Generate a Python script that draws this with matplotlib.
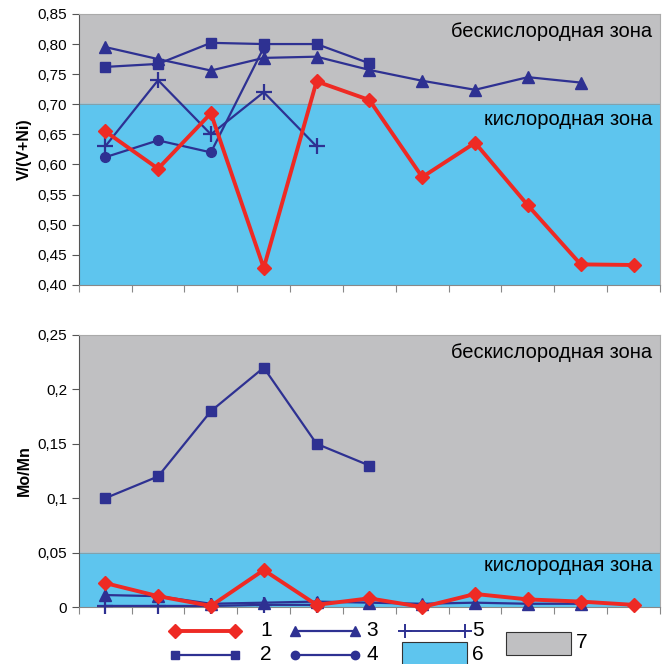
import numpy as np
import matplotlib
matplotlib.use('Agg')
import matplotlib.pyplot as plt
from matplotlib.lines import Line2D
from matplotlib.patches import Rectangle
from matplotlib.ticker import FuncFormatter

plt.rcParams['font.family'] = ['Liberation Sans', 'DejaVu Sans']

# V/(V+Ni) values
vni_1 = [0.655, 0.593, 0.685, 0.428, 0.738, 0.707, 0.579, 0.636, 0.532, 0.434, 0.433]
vni_2 = [0.762, 0.767, 0.802, 0.800, 0.800, 0.768]
vni_3 = [0.795, 0.775, 0.756, 0.777, 0.779, 0.757, 0.739, 0.724, 0.745, 0.736]
vni_4 = [0.612, 0.640, 0.620, 0.794]
vni_5 = [0.630, 0.740, 0.650, 0.720, 0.630]

# Mo/Mn values
momn_1 = [0.022, 0.010, 0.001, 0.034, 0.002, 0.008, 0.000, 0.012, 0.007, 0.005, 0.002]
momn_2 = [0.10, 0.12, 0.18, 0.22, 0.15, 0.13]
momn_3 = [0.011, 0.010, 0.003, 0.004, 0.005, 0.004, 0.003, 0.004, 0.003, 0.003]
momn_5 = [0.001, 0.001, 0.001, 0.002, 0.002]

n_cat = 11
red = '#ee2a24'
navy = '#2e3192'
grey = '#c0c0c2'
blue = '#5ec5ee'

def xs(vals):
    return np.arange(len(vals)) + 0.5

def comma2(v, pos):
    return f'{v:.2f}'.replace('.', ',')

def comma_short(v, pos):
    if abs(v) < 1e-9:
        return '0'
    s = f'{v:.2f}'.rstrip('0')
    return s.replace('.', ',')

W, H = 668, 664
fig = plt.figure(figsize=(W / 100, H / 100), dpi=100)
ax1 = fig.add_axes([0.118, 0.571, 0.870, 0.408])
ax2 = fig.add_axes([0.118, 0.0858, 0.870, 0.4097])

def style(ax, ylo, yhi, split, step):
    ax.set_xlim(0, n_cat)
    ax.set_ylim(ylo, yhi)
    ax.axhspan(split, yhi, color=grey, zorder=0)
    ax.axhspan(ylo, split, color=blue, zorder=0)
    ax.axhline(split, color='#8a9aa0', lw=0.6, zorder=1)
    ax.set_xticks(np.arange(n_cat + 1))
    ax.set_xticklabels([])
    ax.set_yticks(np.arange(ylo, yhi + step / 2, step))
    ax.tick_params(axis='x', direction='out', length=5, color='#888888')
    ax.tick_params(axis='y', direction='out', length=5, labelsize=11, color='#555555')
    for s in ['top', 'right']:
        ax.spines[s].set_color('#aaaaaa')
    ax.spines['left'].set_color('#555555')
    ax.spines['bottom'].set_color('#888888')
    ax.text(n_cat - 0.15, yhi - (yhi - ylo) * 0.03, 'бескислородная зона',
            ha='right', va='top', fontsize=14.5)

style(ax1, 0.40, 0.85, 0.70, 0.05)
ax1.yaxis.set_major_formatter(FuncFormatter(comma2))
ax1.text(n_cat - 0.15, 0.69, 'кислородная зона', ha='right', va='top', fontsize=14.5)
ax1.set_ylabel('V/(V+Ni)', fontweight='bold', fontsize=11.5)

ax1.plot(xs(vni_2), vni_2, color=navy, lw=1.6, marker='s', ms=7, zorder=3)
ax1.plot(xs(vni_3), vni_3, color=navy, lw=1.6, marker='^', ms=8, zorder=3)
ax1.plot(xs(vni_4), vni_4, color=navy, lw=1.6, marker='o', ms=7, zorder=3)
ax1.plot(xs(vni_5), vni_5, color=navy, lw=1.6, marker='+', ms=12, mew=1.6, zorder=3)
ax1.plot(xs(vni_1), vni_1, color=red, lw=2.8, marker='D', ms=7, zorder=4)

style(ax2, 0.0, 0.25, 0.05, 0.05)
ax2.yaxis.set_major_formatter(FuncFormatter(comma_short))
ax2.text(n_cat - 0.15, 0.047, 'кислородная зона', ha='right', va='top', fontsize=14.5)
ax2.set_ylabel('Mo/Mn', fontweight='bold', fontsize=11.5)

ax2.plot(xs(momn_2), momn_2, color=navy, lw=1.6, marker='s', ms=7, zorder=3)
ax2.plot(xs(momn_5), momn_5, color=navy, lw=1.6, marker='+', ms=12, mew=1.6, zorder=3, clip_on=False)
ax2.plot(xs(momn_3), momn_3, color=navy, lw=1.6, marker='^', ms=8, zorder=3, clip_on=False)
ax2.plot(xs(momn_1), momn_1, color=red, lw=2.8, marker='D', ms=7, zorder=4, clip_on=False)

# legend drawn by hand in figure pixel positions
def fx(px):
    return px / W

def fy(py):
    return 1 - py / H

line_items = [
    ('1', 175, 631, 260, dict(color=red, lw=2.8, marker='D', ms=7)),
    ('2', 175, 655, 260, dict(color=navy, lw=1.6, marker='s', ms=6)),
    ('3', 295, 631, 366, dict(color=navy, lw=1.6, marker='^', ms=7)),
    ('4', 295, 655, 366, dict(color=navy, lw=1.6, marker='o', ms=6)),
    ('5', 405, 631, 472, dict(color=navy, lw=1.4, marker='+', ms=10, mew=1.4)),
]
for lab, x0, y0, xt, kw in line_items:
    fig.add_artist(Line2D([fx(x0), fx(x0 + 60)], [fy(y0), fy(y0)], **kw))
    fig.text(fx(xt), fy(y0), lab, fontsize=15, ha='left', va='center')

fig.add_artist(Rectangle((fx(402), fy(665)), fx(65), 23 / H, facecolor=blue,
                         edgecolor='#333333', lw=0.8))
fig.text(fx(472), fy(655), '6', fontsize=15, ha='left', va='center')
fig.add_artist(Rectangle((fx(506), fy(655)), fx(65), 23 / H, facecolor=grey,
                         edgecolor='#333333', lw=0.8))
fig.text(fx(576), fy(643), '7', fontsize=15, ha='left', va='center')

fig.savefig('out.png', dpi=100)
